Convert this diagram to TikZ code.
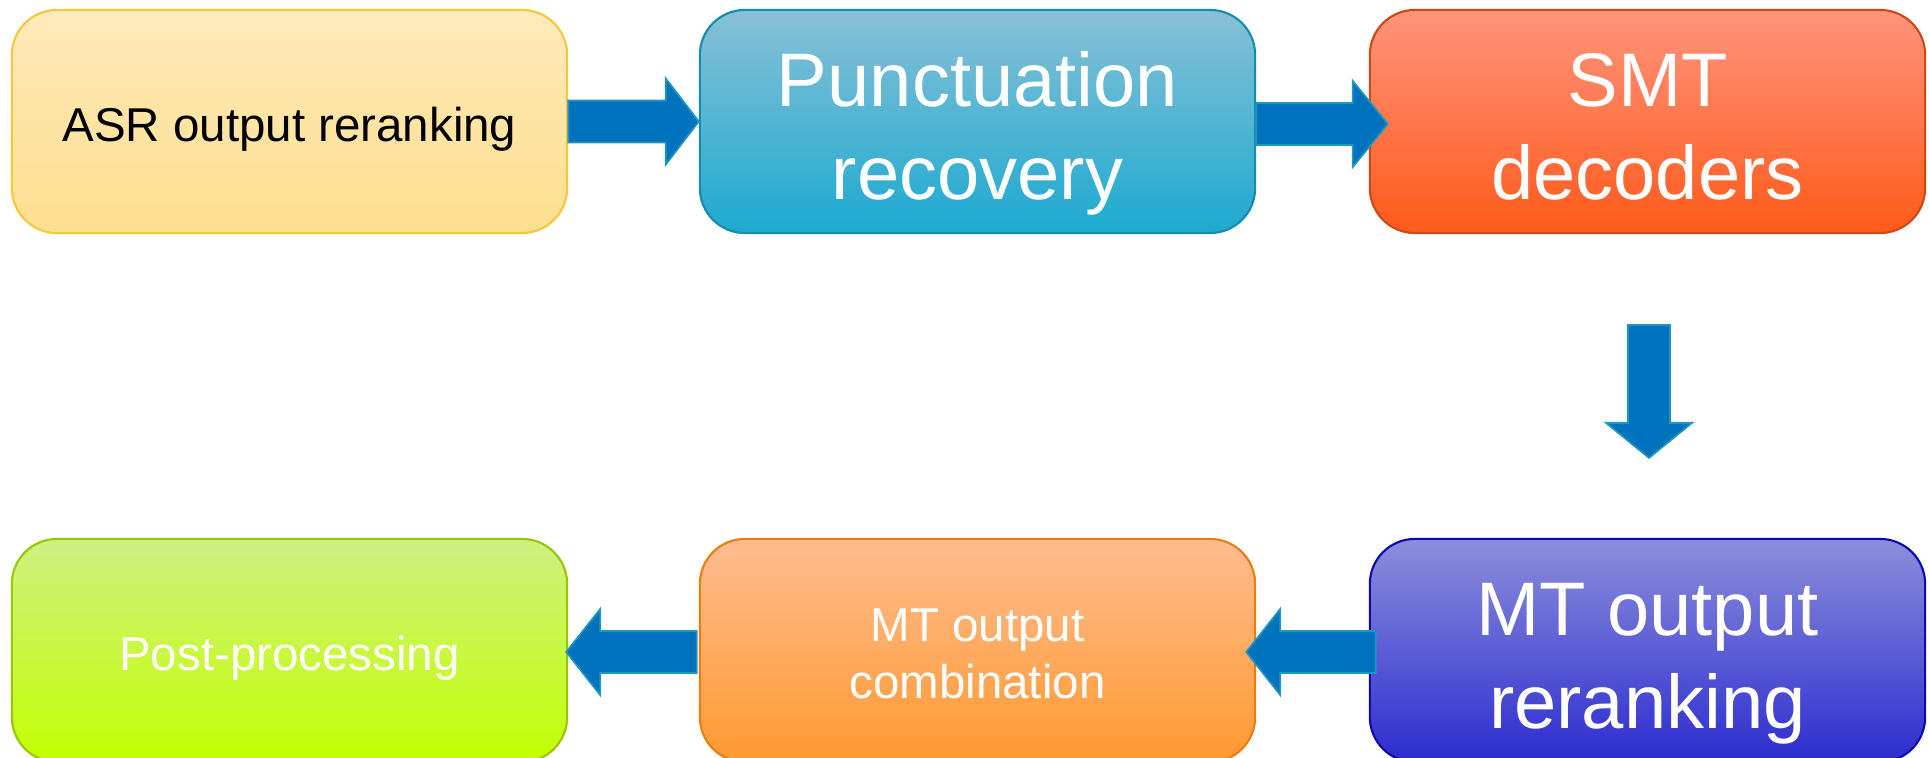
\documentclass[tikz,border=0pt]{standalone}
\usepackage{fontspec}
\setmainfont{Liberation Sans}
\usetikzlibrary{calc}

\definecolor{asrtop}{RGB}{255,234,186}
\definecolor{asrbot}{RGB}{253,223,143}
\definecolor{asrline}{RGB}{248,198,60}
\definecolor{puntop}{RGB}{136,192,214}
\definecolor{punbot}{RGB}{28,170,208}
\definecolor{punline}{RGB}{20,140,175}
\definecolor{smttop}{RGB}{255,148,124}
\definecolor{smtbot}{RGB}{255,90,26}
\definecolor{smtline}{RGB}{205,72,20}
\definecolor{posttop}{RGB}{206,240,130}
\definecolor{postbot}{RGB}{196,255,0}
\definecolor{postline}{RGB}{150,200,0}
\definecolor{combtop}{RGB}{255,188,145}
\definecolor{combbot}{RGB}{255,153,48}
\definecolor{combline}{RGB}{235,125,15}
\definecolor{rrtop}{RGB}{140,142,218}
\definecolor{rrbot}{RGB}{44,44,208}
\definecolor{rrline}{RGB}{10,10,175}
\definecolor{arrowblue}{RGB}{0,114,190}
\definecolor{arrowline}{RGB}{30,150,190}

\newcommand{\tallstrut}{\rule{0pt}{0.83em}}

\tikzset{
  stage/.style={rounded corners=0.45cm, minimum width=5.55cm, minimum height=2.23cm,
    line width=0.6pt, align=center, inner sep=0pt, text depth=0pt},
  bigtext/.style={font=\fontsize{21.6}{26.2}\selectfont, text=white},
  smalltext/.style={font=\fontsize{13.5}{16.2}\selectfont},
  bigarrow/.style={fill=arrowblue, draw=arrowline, line width=0.5pt}
}

\begin{document}
\begin{tikzpicture}[x=0.01cm,y=-0.01cm]
  \useasboundingbox (0,0) rectangle (1929,758);
  \clip (0,0) rectangle (1929,758);

  % top row
  \node[stage, smalltext, top color=asrtop, bottom color=asrbot, draw=asrline] (asr) at (289.5,121.5) {\tallstrut ASR output reranking};
  \node[stage, bigtext, top color=puntop, bottom color=punbot, draw=punline] (punct) at (977.5,121.5) {\tallstrut Punctuation\\recovery};
  \node[stage, bigtext, top color=smttop, bottom color=smtbot, draw=smtline] (smt) at (1647.5,121.5) {\tallstrut SMT\\decoders};

  % bottom row
  \node[stage, smalltext, text=white, top color=posttop, bottom color=postbot, draw=postline] (post) at (289.5,650.5) {\tallstrut Post-processing};
  \node[stage, smalltext, text=white, top color=combtop, bottom color=combbot, draw=combline] (comb) at (977.5,650.5) {\tallstrut MT output\\combination};
  \node[stage, bigtext, top color=rrtop, bottom color=rrbot, draw=rrline] (mtrr) at (1647.5,650.5) {\tallstrut MT output\\reranking};

  % arrows
  \draw[bigarrow] ($(asr.east)+(0,-21)$) -- ($(punct.west)+(-33,-21)$) -- ($(punct.west)+(-33,-43)$)
    -- (punct.west) -- ($(punct.west)+(-33,43)$) -- ($(punct.west)+(-33,21)$) -- ($(asr.east)+(0,21)$) -- cycle;
  \coordinate (tip2) at ($(smt.west)+(19,2.5)$);
  \draw[bigarrow] ($(punct.east|-tip2)+(0,-21)$) -- ($(tip2)+(-35,-21)$) -- ($(tip2)+(-35,-43)$)
    -- (tip2) -- ($(tip2)+(-35,43)$) -- ($(tip2)+(-35,21)$) -- ($(punct.east|-tip2)+(0,21)$) -- cycle;
  \coordinate (top3) at ($(smt.south)+(1.5,91)$);
  \coordinate (tip3) at ($(mtrr.north)+(1.5,-80)$);
  \draw[bigarrow] ($(top3)+(-21,0)$) -- ($(tip3)+(-21,-35)$) -- ($(tip3)+(-43,-35)$)
    -- (tip3) -- ($(tip3)+(43,-35)$) -- ($(tip3)+(21,-35)$) -- ($(top3)+(21,0)$) -- cycle;
  \coordinate (tip4) at ($(comb.east)+(-10,1.5)$);
  \draw[bigarrow] ($(mtrr.west|-tip4)+(7,-21)$) -- ($(tip4)+(34,-21)$) -- ($(tip4)+(34,-43)$)
    -- (tip4) -- ($(tip4)+(34,43)$) -- ($(tip4)+(34,21)$) -- ($(mtrr.west|-tip4)+(7,21)$) -- cycle;
  \coordinate (tip5) at ($(post.east)+(-2,1.5)$);
  \draw[bigarrow] ($(comb.west|-tip5)+(-2,-21)$) -- ($(tip5)+(34,-21)$) -- ($(tip5)+(34,-43)$)
    -- (tip5) -- ($(tip5)+(34,43)$) -- ($(tip5)+(34,21)$) -- ($(comb.west|-tip5)+(-2,21)$) -- cycle;
\end{tikzpicture}
\end{document}
